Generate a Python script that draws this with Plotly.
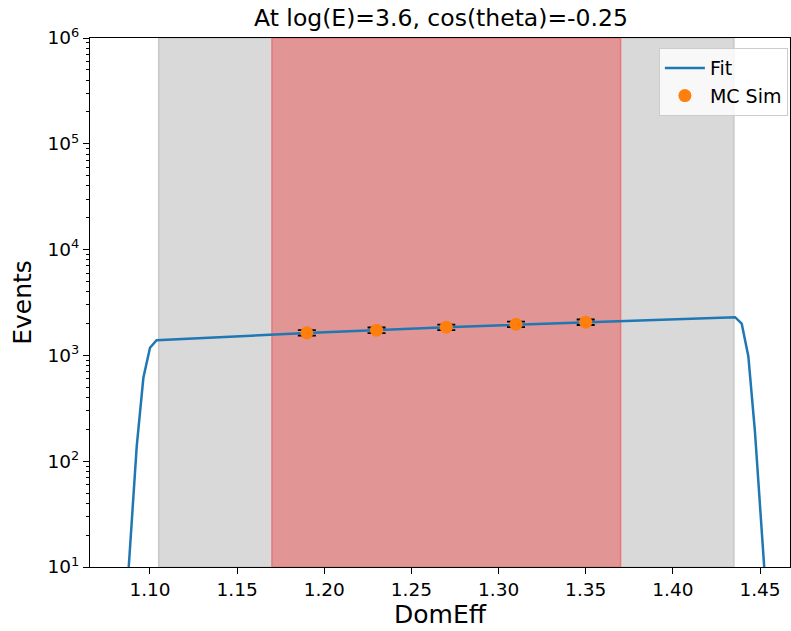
import plotly.graph_objects as go

# Fit curve
fit_x = [1.0870, 1.0924, 1.0962, 1.1000, 1.1038, 1.19, 1.27, 1.35, 1.4357,
         1.4395, 1.4433, 1.4471, 1.4509, 1.4547]
fit_y = [6.3, 139, 614, 1180, 1392, 1627, 1845, 2063, 2296,
         2000, 982, 190, 25, 2.8]

# MC simulation points
mc_x = [1.19, 1.23, 1.27, 1.31, 1.35]
mc_y = [1636, 1730, 1847, 1970, 2061]
mc_err = [100, 105, 110, 118, 124]

grey_span = [1.105, 1.435]
red_span = [1.17, 1.37]

x_range = [1.06558, 1.46721]
x_ticks = [1.10, 1.15, 1.20, 1.25, 1.30, 1.35, 1.40, 1.45]
y_tickvals = [1e1, 1e2, 1e3, 1e4, 1e5, 1e6]
y_ticktext = ["10<sup>1</sup>", "10<sup>2</sup>", "10<sup>3</sup>",
              "10<sup>4</sup>", "10<sup>5</sup>", "10<sup>6</sup>"]
y_minor = [m * 10 ** d for d in range(1, 6) for m in range(2, 10)]

FONT = "DejaVu Sans"

fig = go.Figure()

fig.add_vrect(x0=grey_span[0], x1=grey_span[1], fillcolor="rgb(217,217,217)",
              line=dict(color="rgb(200,200,200)", width=1.5), layer="below")
fig.add_vrect(x0=red_span[0], x1=red_span[1], fillcolor="rgb(225,149,149)",
              line=dict(color="rgb(232,120,120)", width=1.5), layer="below")

fig.add_trace(go.Scatter(x=fit_x, y=fit_y, mode="lines", name="Fit",
                         line=dict(color="#1f77b4", width=2.5)))
fig.add_trace(go.Scatter(x=mc_x, y=mc_y, mode="markers", name="MC Sim",
                         marker=dict(color="#ff7f0e", size=13),
                         error_y=dict(type="data", array=mc_err, color="black",
                                      thickness=1.8, width=9)))

fig.update_layout(
    width=791, height=631,
    margin=dict(l=90, r=1, t=38, b=64),
    paper_bgcolor="white", plot_bgcolor="white",
    font=dict(family=FONT, size=18.5, color="black"),
    title=dict(text="At log(E)=3.6, cos(theta)=-0.25", x=0.5575, xanchor="center",
               y=1 - 18 / 631, yanchor="middle", font=dict(size=23.5)),
    showlegend=True,
    legend=dict(x=0.997, y=0.981, xanchor="right", yanchor="top",
                bgcolor="rgba(255,255,255,0.8)", bordercolor="#cccccc",
                borderwidth=1, font=dict(size=19), itemwidth=40),
)

fig.update_xaxes(range=x_range, tickvals=x_ticks,
                 ticktext=[f"{v:.2f}" for v in x_ticks],
                 ticks="outside", ticklen=6, tickwidth=1.2, tickcolor="black",
                 showline=True, linecolor="black", linewidth=1.2, mirror=True,
                 showgrid=False, zeroline=False,
                 title=dict(text="DomEff", font=dict(size=25), standoff=4))
fig.update_yaxes(type="log", range=[1, 6], tickvals=y_tickvals, ticktext=y_ticktext,
                 ticks="outside", ticklen=6, tickwidth=1.2, tickcolor="black",
                 minor=dict(tickmode="array", tickvals=y_minor, ticks="outside",
                            ticklen=3, tickwidth=0.9, tickcolor="black", showgrid=False),
                 showline=True, linecolor="black", linewidth=1.2, mirror=True,
                 showgrid=False, zeroline=False,
                 title=dict(text="Events", font=dict(size=25), standoff=8))

fig.write_html("out.html", config={"displayModeBar": False},
               post_script="document.body.style.margin='0';")
